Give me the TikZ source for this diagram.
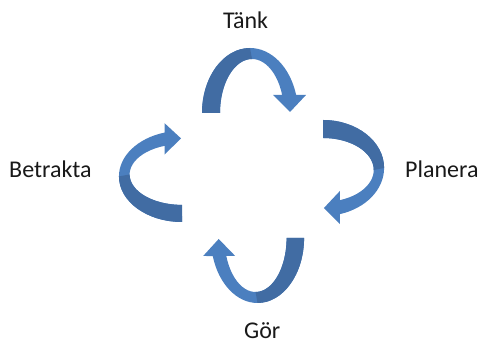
\documentclass[tikz,border=0pt]{standalone}
\usepackage{fontspec}
\setmainfont{Carlito}
\definecolor{ribbonfront}{HTML}{4B7FBF}
\definecolor{ribbonback}{HTML}{416CA3}
\tikzset{
  phase label/.style={font=\fontsize{24}{28}\selectfont, inner sep=0pt, anchor=base west, text=black!90},
  cycle arrow/.pic={
    % front of the ribbon: arched band and arrowhead
    \fill[ribbonfront] (-48,0) arc[start angle=180,end angle=16.1,x radius=48,y radius=65]
      -- (56,18) -- (40,1) -- (23,18) -- (32.17,18)
      arc[start angle=19.47,end angle=180,x radius=32,y radius=54] -- cycle;
    % back of the ribbon: the rising leg up to the crest
    \fill[ribbonback] (-48,0) arc[start angle=180,end angle=90,x radius=48,y radius=65]
      -- (2,54) arc[start angle=90,end angle=180,x radius=32,y radius=54] -- cycle;
  }
}
\begin{document}
\begin{tikzpicture}[x=1pt,y=1pt]
\useasboundingbox (0,0) rectangle (483,344);
% the four arched arrows of the cycle
\pic (toparrow) at (250,231) {cycle arrow};
\pic[rotate=-90,yscale=0.94] (rightarrow) at (323,176) {cycle arrow};
\pic[rotate=180,xscale=0.97] (bottomarrow) at (257.5,106) {cycle arrow};
\pic[rotate=90,xscale=0.95,yscale=0.97] (leftarrow) at (182,167.6) {cycle arrow};
% phase names
\node[phase label] (tank) at (223,315) {Tänk};
\node[phase label] (planera) at (405,166) {Planera};
\node[phase label] (gor) at (244,5) {Gör};
\node[phase label] (betrakta) at (9,166) {Betrakta};
\end{tikzpicture}
\end{document}
